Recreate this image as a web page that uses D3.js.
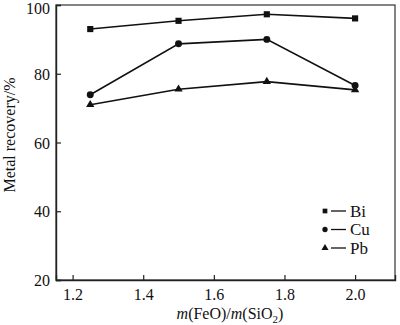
<!DOCTYPE html>
<html><head><meta charset="utf-8">
<script src="https://cdn.jsdelivr.net/npm/d3@7"></script>
<style>body{margin:0;background:#fff}svg{display:block}</style>
</head><body>
<script>
const ratios = [1.25, 1.5, 1.75, 2.0];
const bi = [93.0, 95.4, 97.3, 96.1];
const cu = [73.9, 88.7, 90.0, 76.6];
const pb = [71.0, 75.5, 77.7, 75.3];
const seriesNames = ["Bi", "Cu", "Pb"];
const seriesShapes = [d3.symbolSquare, d3.symbolCircle, d3.symbolTriangle];
const xTicks = [1.2, 1.4, 1.6, 1.8, 2.0];
const yTicks = [20, 40, 60, 80, 100];

const FONT = "'Liberation Serif', 'Times New Roman', serif";
const W = 400, H = 325;
const m = {left: 56, right: 5, top: 5, bottom: 45};
const svg = d3.select("body").append("svg").attr("width", W).attr("height", H)
  .attr("font-family", FONT);
const x = d3.scaleLinear().domain([1.153, 2.113]).range([m.left, W - m.right]);
const y = d3.scaleLinear().domain([20, 100]).range([H - m.bottom, m.top]);

svg.append("rect").attr("x", m.left).attr("y", m.top)
  .attr("width", W - m.right - m.left).attr("height", H - m.bottom - m.top)
  .attr("fill", "none").attr("stroke", "#333").attr("stroke-width", 1.2);

const xAxis = svg.append("g").attr("transform", `translate(0,${H - m.bottom})`)
  .call(d3.axisBottom(x).tickValues(xTicks).tickFormat(d3.format(".1f")).tickSize(-5).tickPadding(9));
const yAxis = svg.append("g").attr("transform", `translate(${m.left},0)`)
  .call(d3.axisLeft(y).tickValues(yTicks).tickFormat(d3.format("d")).tickSize(-5).tickPadding(6));
[xAxis, yAxis].forEach(a => {
  a.attr("font-family", FONT).attr("font-size", 16);
  a.select(".domain").attr("stroke", "#222").attr("stroke-width", 1.4);
  a.selectAll(".tick line").attr("stroke", "#222").attr("stroke-width", 1.2);
  a.selectAll("text").attr("fill", "#111").style("font-family", FONT).style("font-size", "16px");
});
yAxis.selectAll(".tick text").attr("dy", d => d === 100 ? "0.55em" : "0.35em");

const all = [bi, cu, pb];
const line = d3.line().x((d, i) => x(ratios[i])).y(d => y(d));
all.forEach((vals, k) => {
  svg.append("path").datum(vals).attr("d", line)
    .attr("fill", "none").attr("stroke", "#111").attr("stroke-width", 1.6);
  const sz = k === 0 ? 38 : (k === 1 ? 38 : 30);
  svg.selectAll(null).data(vals).enter().append("path")
    .attr("transform", (d, i) => `translate(${x(ratios[i])},${y(d)})`)
    .attr("d", d3.symbol().type(seriesShapes[k]).size(sz))
    .attr("fill", "#111");
});

const lg = svg.append("g");
seriesNames.forEach((n, k) => {
  const ly = 211 + k * 18.5;
  lg.append("path").attr("transform", `translate(325,${ly})`)
    .attr("d", d3.symbol().type(seriesShapes[k]).size(k === 1 ? 22 : 22)).attr("fill", "#111");
  lg.append("line").attr("x1", 331).attr("x2", 346).attr("y1", ly).attr("y2", ly)
    .attr("stroke", "#111").attr("stroke-width", 1.3);
  lg.append("text").attr("x", 350).attr("y", ly).attr("dy", "0.35em")
    .style("font-family", FONT).style("font-size", "17px").attr("fill", "#111").text(n);
});

const xt = svg.append("text").attr("x", 230).attr("y", 319).attr("text-anchor", "middle")
  .style("font-family", FONT).style("font-size", "16px").attr("fill", "#111");
xt.append("tspan").attr("font-style", "italic").text("m");
xt.append("tspan").text("(FeO)/");
xt.append("tspan").attr("font-style", "italic").text("m");
xt.append("tspan").text("(SiO");
xt.append("tspan").attr("dy", 4).style("font-size", "11px").text("2");
xt.append("tspan").attr("dy", -4).text(")");

svg.append("text").attr("transform", "translate(15,135) rotate(-90)")
  .attr("text-anchor", "middle").style("font-family", FONT).style("font-size", "16px")
  .attr("fill", "#111").text("Metal recovery/%");
</script>
</body></html>
